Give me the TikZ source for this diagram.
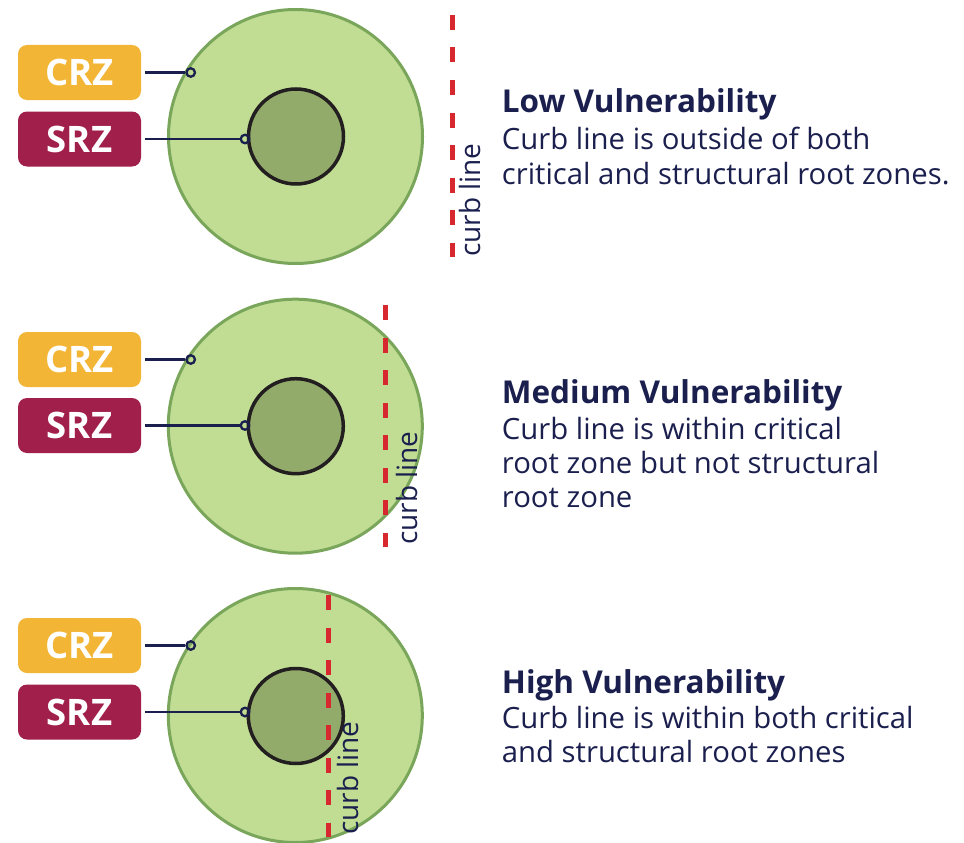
\documentclass[tikz,border=0pt]{standalone}
\usepackage{fontspec}
\setmainfont{Open Sans}
\definecolor{navy}{HTML}{1A1F4E}
\definecolor{crzc}{HTML}{F2B535}
\definecolor{srzc}{HTML}{A01F4B}
\definecolor{outerfill}{HTML}{C1DD93}
\definecolor{outerline}{HTML}{79A65A}
\definecolor{innerfill}{HTML}{92AB6B}
\definecolor{innerline}{HTML}{231F20}
\definecolor{curbred}{HTML}{D7282F}
\tikzset{
  outercirc/.style={circle, draw=outerline, fill=outerfill, line width=3pt, minimum size=254pt, inner sep=0pt},
  innercirc/.style={circle, draw=innerline, fill=innerfill, line width=3.5pt, minimum size=95pt, inner sep=0pt},
  tagbox/.style={rounded corners=9pt, minimum width=123pt, minimum height=55pt, inner sep=0pt, text=white, font=\fontsize{36.5}{40}\selectfont\bfseries},
  crzbox/.style={tagbox, fill=crzc},
  srzbox/.style={tagbox, fill=srzc},
  dotmark/.style={circle, draw=navy, line width=2.3pt, minimum size=8.5pt, inner sep=0pt},
  conn/.style={draw=navy, line width=2.3pt},
  curbline/.style={draw=curbred, line width=5pt, dash pattern=on 15pt off 17.5pt},
  curbtext/.style={rotate=90, anchor=base west, inner sep=0pt, text=navy, font=\fontsize{28}{33}\selectfont},
  titletext/.style={anchor=base west, inner sep=0pt, text=navy, font=\fontsize{31.5}{35}\selectfont\bfseries},
  desctext/.style={anchor=base west, inner sep=0pt, text=navy, font=\fontsize{29.3}{35}\selectfont},
}
\begin{document}
\begin{tikzpicture}[x=1pt,y=-1pt]
\useasboundingbox (0,0) rectangle (964,843);

% ---------- Panel 1 ----------
\node[outercirc] (o1) at (295.5,136.5) {};
\node[innercirc] (i1) at (296,136.5) {};
\node[crzbox] (crz1) at (79.5,72.5) {CRZ};
\node[srzbox] (srz1) at (79.5,139) {SRZ};
\node[dotmark] (dc1) at (190.7,72.5) {};
\node[dotmark] (ds1) at (245,139) {};
\draw[conn, shorten <=4pt] (crz1.east) -- (dc1.west);
\draw[conn, shorten <=4pt] (srz1.east) -- (ds1.west);
\coordinate (c1t) at (452,15);
\coordinate (c1b) at (452,257);
\draw[curbline] (c1t) -- (c1b);
\node[curbtext] (ct1) at (480,257) {curb line};
\node[titletext] (t1) at (501.7,113) {Low Vulnerability};
\node[desctext] (d1a) at (501.7,149) {Curb line is outside of both};
\node[desctext] (d1b) at (501.7,184) {critical and structural root zones.};

% ---------- Panel 2 ----------
\node[outercirc] (o2) at (295.3,426.2) {};
\node[innercirc] (i2) at (295.8,426.2) {};
\node[crzbox] (crz2) at (79.5,359.5) {CRZ};
\node[srzbox] (srz2) at (79.5,425.5) {SRZ};
\node[dotmark] (dc2) at (190.7,359.5) {};
\node[dotmark] (ds2) at (245,425.5) {};
\draw[conn, shorten <=4pt] (crz2.east) -- (dc2.west);
\draw[conn, shorten <=4pt] (srz2.east) -- (ds2.west);
\coordinate (c2t) at (385.7,305);
\coordinate (c2b) at (385.7,547);
\draw[curbline] (c2t) -- (c2b);
\node[curbtext] (ct2) at (417,545) {curb line};
\node[titletext] (t2) at (501.7,403.3) {Medium Vulnerability};
\node[desctext] (d2a) at (501.7,439) {Curb line is within critical};
\node[desctext] (d2b) at (501.7,473.3) {root zone but not structural};
\node[desctext] (d2c) at (501.7,507.7) {root zone};

% ---------- Panel 3 ----------
\node[outercirc] (o3) at (295.3,715.5) {};
\node[innercirc] (i3) at (295.8,716) {};
\node[crzbox] (crz3) at (79.5,645.5) {CRZ};
\node[srzbox] (srz3) at (79.5,712) {SRZ};
\node[dotmark] (dc3) at (190.7,645.5) {};
\node[dotmark] (ds3) at (245,712) {};
\draw[conn, shorten <=4pt] (crz3.east) -- (dc3.west);
\draw[conn, shorten <=4pt] (srz3.east) -- (ds3.west);
\coordinate (c3t) at (328.3,595);
\coordinate (c3b) at (328.3,837);
\draw[curbline] (c3t) -- (c3b);
\node[curbtext] (ct3) at (358,835) {curb line};
\node[titletext] (t3) at (501.7,693.3) {High Vulnerability};
\node[desctext] (d3a) at (501.7,728.3) {Curb line is within both critical};
\node[desctext] (d3b) at (501.7,762.3) {and structural root zones};
\end{tikzpicture}
\end{document}
